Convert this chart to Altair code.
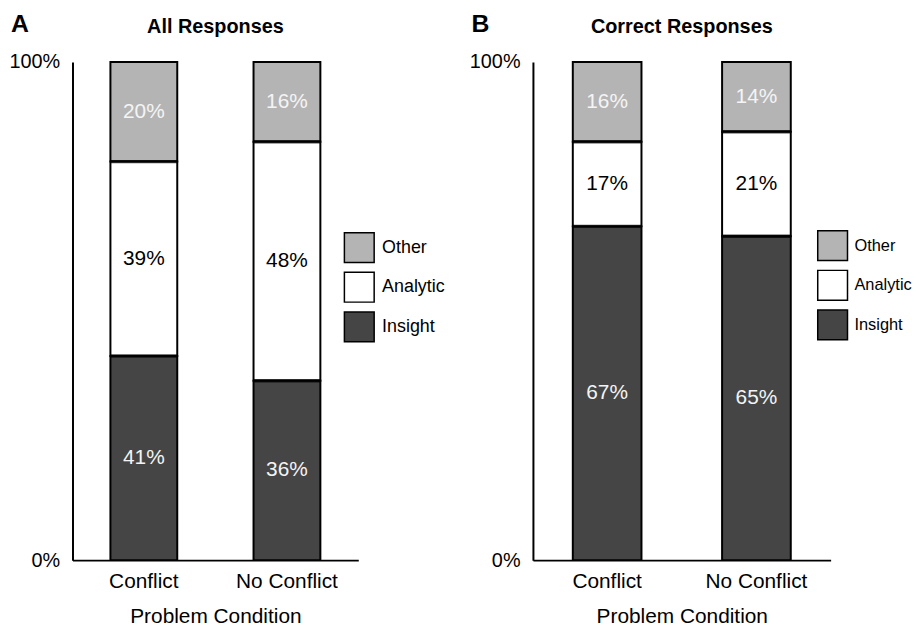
import altair as alt
import pandas as pd

conditions = ["Conflict", "No Conflict"]
types = ["Other", "Analytic", "Insight"]

all_other = [20, 16]
all_analytic = [39, 48]
all_insight = [41, 36]

cor_other = [16, 14]
cor_analytic = [17, 21]
cor_insight = [67, 65]

y_ticks = [0, 100]

colors = ["#b4b4b4", "#ffffff", "#454545"]
stack_rank = {"Insight": 0, "Analytic": 1, "Other": 2}
FONT = "Liberation Sans"


def make_df(other, analytic, insight):
    rows = []
    for i, c in enumerate(conditions):
        for t, vals in zip(types, [other, analytic, insight]):
            rows.append(dict(cond=c, type=t, value=vals[i], rank=stack_rank[t]))
    return pd.DataFrame(rows)


def panel(df, letter, title, w, h, pin, pout, bw, lx, ly, lfs, loff):
    base = alt.Chart(df).transform_stack(
        stack="value", as_=["v0", "v1"], groupby=["cond"],
        sort=[alt.SortField("rank", order="ascending")]
    ).transform_calculate(
        mid="(datum.v0 + datum.v1) / 2", lab="datum.value + '%'"
    )
    x = alt.X(
        "cond:N", sort=conditions,
        scale=alt.Scale(paddingInner=pin, paddingOuter=pout),
        axis=alt.Axis(title="Problem Condition", labelAngle=0, ticks=False,
                      domainColor="black", domainWidth=2,
                      labelFont=FONT, labelFontSize=21, labelColor="black",
                      labelPadding=11, titleFont=FONT, titleFontSize=21,
                      titleFontWeight="normal", titleColor="black",
                      titlePadding=14),
    )
    y = alt.Y(
        "v0:Q", scale=alt.Scale(domain=[0, 100]),
        axis=alt.Axis(values=y_ticks, labelExpr="datum.value + '%'", title=None,
                      ticks=False, grid=False, domainColor="black", domainWidth=2,
                      labelFont=FONT, labelFontSize=20, labelColor="black",
                      labelPadding=13),
    )
    bars = base.mark_bar(stroke="black", strokeWidth=2).encode(
        x=x, y=y, y2="v1:Q",
        color=alt.Color(
            "type:N", scale=alt.Scale(domain=types, range=colors),
            legend=alt.Legend(title=None, orient="none", legendX=lx, legendY=ly,
                              symbolType="square", symbolSize=900,
                              symbolStrokeColor="black", symbolStrokeWidth=1.5,
                              symbolOpacity=1, labelFont=FONT, labelFontSize=lfs,
                              labelColor="black", rowPadding=4, labelOffset=loff),
        ),
    )
    dividers = base.transform_filter("datum.rank < 2").mark_tick(
        color="black", thickness=3.5, size=bw
    ).encode(x=alt.X("cond:N", sort=conditions), y="v1:Q")
    labels = base.mark_text(font=FONT, fontSize=21).encode(
        x=alt.X("cond:N", sort=conditions), y="mid:Q", text="lab:N",
        color=alt.condition("datum.type == 'Analytic'", alt.value("black"),
                            alt.value("#f4f4f4")),
    )
    heading = alt.Chart(pd.DataFrame({"t": [title]})).mark_text(
        font=FONT, fontSize=20, fontWeight="bold", align="center", baseline="middle"
    ).encode(x=alt.value(w / 2), y=alt.value(-35), text="t:N")
    tag = alt.Chart(pd.DataFrame({"t": [letter]})).mark_text(
        font=FONT, fontSize=25, fontWeight="bold", align="left", baseline="middle",
        color="black"
    ).encode(x=alt.value(-62), y=alt.value(-38), text="t:N")
    return alt.layer(bars, dividers, labels, heading, tag).properties(width=w, height=h)


pa = panel(make_df(all_other, all_analytic, all_insight), "A", "All Responses",
           288, 502, 0.533, 0.265, 67, 273, 171, 18, 7)
pb = panel(make_df(cor_other, cor_analytic, cor_insight), "B", "Correct Responses",
           300, 502, 0.54, 0.267, 69, 286, 169, 16.5, 6)

chart = alt.hconcat(pa, pb, spacing=23).resolve_scale(color="independent").properties(
    padding={"left": 0, "top": 2, "right": 0, "bottom": 0}
).configure_view(stroke=None)

chart.save("out.html", embed_options={"renderer": "svg", "actions": False})
